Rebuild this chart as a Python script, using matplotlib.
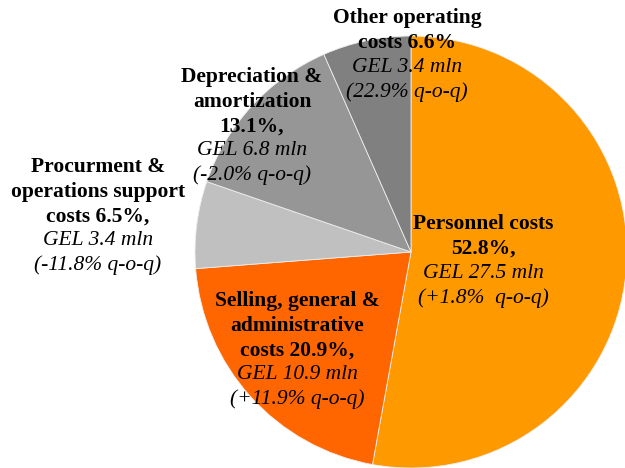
import matplotlib
matplotlib.use("Agg")
import matplotlib.pyplot as plt

# Data
names = [["Personnel costs"],
         ["Selling, general &", "administrative", "costs"],
         ["Procurment &", "operations support", "costs"],
         ["Depreciation &", "amortization"],
         ["Other operating", "costs"]]
shares = [52.8, 20.9, 6.5, 13.1, 6.6]
amounts = [27.5, 10.9, 3.4, 6.8, 3.4]
changes = ["+1.8%  ", "+11.9% ", "-11.8% ", "-2.0% ", "22.9% "]
colors = ["#FF9900", "#FF6600", "#C0C0C0", "#969696", "#808080"]

# layout (pixel coordinates, y from top): first line centre
label_pos = [(483, 224), (297, 301), (98, 167), (252, 77), (407, 18)]
line_h = 24.6

W, H = 625, 468
fig = plt.figure(figsize=(W / 100, H / 100), dpi=100)
ax = fig.add_axes([0, 0, 1, 1])
ax.pie(shares, colors=colors, startangle=90, counterclock=False,
       center=(411, H - 252), radius=216,
       wedgeprops=dict(edgecolor="#EEEEEE", linewidth=0.6))
ax.set_xlim(0, W)
ax.set_ylim(0, H)
ax.set_aspect("equal")
ax.axis("off")

fs = 15.5
for i, nm in enumerate(names):
    bold_lines = list(nm)
    pct = f"{shares[i]:.1f}%" + ("" if i == 4 else ",")
    if i in (1, 2, 4):
        bold_lines[-1] = bold_lines[-1] + " " + pct
    else:
        bold_lines.append(pct)
    italic_lines = [f"GEL {amounts[i]:.1f} mln", f"({changes[i]}q-o-q)"]
    x, y0 = label_pos[i]
    k = 0
    for ln in bold_lines:
        ax.text(x, H - (y0 + k * line_h), ln, ha="center", va="center",
                fontsize=fs, fontweight="bold", family="Liberation Serif")
        k += 1
    for ln in italic_lines:
        ax.text(x, H - (y0 + k * line_h), ln, ha="center", va="center",
                fontsize=fs, fontstyle="italic", family="Liberation Serif")
        k += 1

fig.savefig("out.png", dpi=100)
